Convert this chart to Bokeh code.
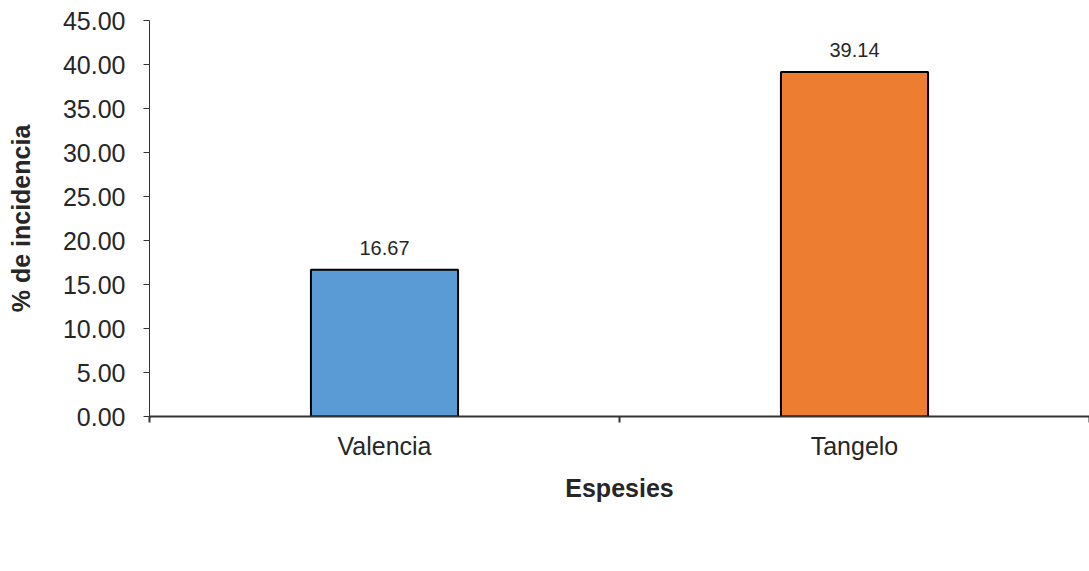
from bokeh.plotting import figure
from bokeh.models import (ColumnDataSource, Range1d, FixedTicker, NumeralTickFormatter,
                          Legend, LegendItem, LabelSet)
from bokeh.core.properties import value
from bokeh.embed import file_html
from bokeh.resources import INLINE

categories = ["Valencia", "Tangelo"]
values = [16.67, 39.14]
colors = ["#5B9BD5", "#ED7D31"]
y_ticks = [0, 5, 10, 15, 20, 25, 30, 35, 40, 45]

xs = [i + 0.5 for i in range(len(categories))]
src = ColumnDataSource(dict(x=xs, top=values, color=colors, cat=categories,
                            lab=["%.2f" % v for v in values]))

FONT = "Liberation Sans"
TXT = "#262626"

p = figure(width=1089, height=571, output_backend="svg", toolbar_location=None,
           x_range=Range1d(0, len(categories)), y_range=Range1d(0, 45),
           min_border_left=149, min_border_top=20, min_border_right=0,
           min_border_bottom=155,
           frame_width=940, frame_height=396)
p.outline_line_color = None
p.grid.visible = False

r = p.vbar(x="x", top="top", width=0.313, bottom=0, fill_color="color",
           line_color="black", line_width=2, source=src)

labels = LabelSet(x="x", y="top", text="lab", source=src, text_align="center",
                  text_baseline="alphabetic", y_offset=15,
                  text_font=value(FONT), text_font_size="20px", text_color=TXT)
p.add_layout(labels)

# y axis
p.yaxis.ticker = FixedTicker(ticks=y_ticks)
p.yaxis.formatter = NumeralTickFormatter(format="0.00")
p.yaxis.major_label_text_font = FONT
p.yaxis.major_label_text_font_size = "25px"
p.yaxis.major_label_text_color = TXT
p.yaxis.major_label_standoff = 18
p.yaxis.major_tick_in = 0
p.yaxis.major_tick_out = 6
p.yaxis.minor_tick_line_color = None
p.yaxis.axis_line_color = "#333333"
p.yaxis.major_tick_line_color = "#333333"
p.yaxis.axis_label = "% de incidencia"
p.yaxis.axis_label_text_font = FONT
p.yaxis.axis_label_text_font_style = "bold"
p.yaxis.axis_label_text_font_size = "25px"
p.yaxis.axis_label_text_color = TXT
p.yaxis.axis_label_standoff = 25

# x axis
p.xaxis.ticker = FixedTicker(ticks=xs, minor_ticks=[0, 1, 2])
p.xaxis.major_label_overrides = {x: c for x, c in zip(xs, categories)}
p.xaxis.major_tick_line_color = None
p.xaxis.minor_tick_in = 0
p.xaxis.minor_tick_out = 6
p.xaxis.minor_tick_line_color = "#333333"
p.xaxis.minor_tick_line_width = 2
p.xaxis.axis_line_color = "#333333"
p.xaxis.axis_line_width = 2
p.xaxis.major_label_text_font = FONT
p.xaxis.major_label_text_font_size = "25px"
p.xaxis.major_label_text_color = TXT
p.xaxis.major_label_standoff = 9
p.xaxis.axis_label = "Espesies"
p.xaxis.axis_label_text_font = FONT
p.xaxis.axis_label_text_font_style = "bold"
p.xaxis.axis_label_text_font_size = "25px"
p.xaxis.axis_label_text_color = TXT
p.xaxis.axis_label_standoff = 11

# legend: one item per bar, below the x axis
legend = Legend(items=[LegendItem(label=c, renderers=[r], index=i) for i, c in enumerate(categories)],
                orientation="horizontal", location="top",
                label_text_font=FONT, label_text_font_size="25px", label_text_color=TXT,
                glyph_width=12, glyph_height=12, label_standoff=6, spacing=30,
                border_line_color=None, background_fill_alpha=0, padding=0, margin=20)
p.add_layout(legend, "below")

open("out.html", "w").write(file_html(p, INLINE))
